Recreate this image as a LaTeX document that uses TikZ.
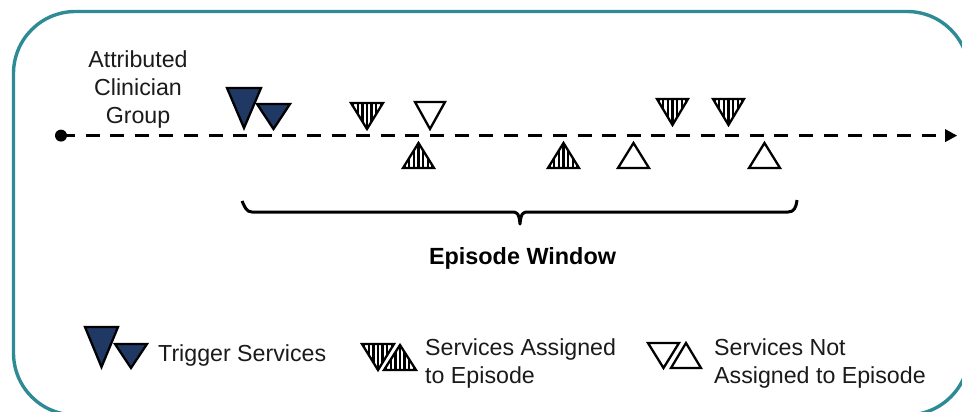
\documentclass[tikz,border=0pt]{standalone}
\usepackage{fontspec}
\setmainfont{Liberation Sans}
\definecolor{teal1}{HTML}{2E8B96}
\definecolor{navy1}{HTML}{1F3864}
\definecolor{ink}{HTML}{1A1A1A}
\tikzset{
  frame/.style={draw=teal1,line width=3.4pt,rounded corners=62pt},
  tri/.style={draw=black,line width=2.3pt,line join=miter},
  trigger/.style={tri,fill=navy1},
  open/.style={tri,fill=white},
  label/.style={inner sep=0pt,text=ink,font=\fontsize{23.2}{28}\selectfont,align=left},
  timeline/.style={line width=3.6pt,dash pattern=on 14pt off 10.6pt},
}
% down/up triangle: #1 style, #2 left x, #3 right x, #4 base y, #5 apex y
\newcommand{\tristem}[5]{\path[#1] (#2,#4) -- (#3,#4) -- ({(#2+#3)/2},#5) -- cycle;}
\newcommand{\trihatch}[4]{%
  \begin{scope}
    \clip (#1,#3) -- (#2,#3) -- ({(#1+#2)/2},#4) -- cycle;
    \foreach \k in {-4,...,4}
      \draw[line width=2.3pt] ({(#1+#2)/2+\k*4.6},#3) -- ({(#1+#2)/2+\k*4.6},#4);
  \end{scope}
  \path[tri] (#1,#3) -- (#2,#3) -- ({(#1+#2)/2},#4) -- cycle;}
\begin{document}
\begin{tikzpicture}[x=1pt,y=-1pt]
\useasboundingbox (0,0) rectangle (962,412);
\begin{scope}
  \clip (0,0) rectangle (962,412);
  \draw[frame] (13.5,11.5) rectangle (969,415);
\end{scope}
% timeline
\coordinate (start) at (61,135.6);
\coordinate (end) at (957,135.6);
\fill (start) circle (6pt);
\draw[timeline] (start) -- (943,135.6);
\fill (end) -- (945,129) -- (945,142.2) -- cycle;
% triangles on the timeline
\tristem{trigger}{227}{261}{88}{128}
\tristem{trigger}{257}{290}{104}{129}
\trihatch{351}{383}{103}{129}
\tristem{open}{415}{445}{102}{129}
\trihatch{403}{434}{168}{143}
\trihatch{548}{579}{168}{143}
\tristem{open}{618}{649}{168}{143}
\trihatch{657}{688}{99}{125}
\trihatch{713}{744}{99}{125}
\tristem{open}{749}{780}{168}{143}
% brace
\draw[line width=3pt,line join=round] (242,201) .. controls (245,207) and (246,212) .. (252,212)
  -- (512,212) .. controls (517,212) and (519,213) .. (520,224)
  .. controls (521,213) and (523,212) .. (528,212)
  -- (788,212) .. controls (794,212) and (796,208) .. (797,200);
\node[label,font=\fontsize{23.4}{28}\selectfont\bfseries,text=black] (window) at (522.5,258) {Episode Window};
\node[label,align=center] (group) at (138,90) {Attributed\\Clinician\\Group};
% legend
\tristem{trigger}{85}{118}{327}{367}
\tristem{trigger}{115}{147}{344}{368}
\node[label,anchor=west] (l1) at (158,355) {Trigger Services};
\trihatch{362}{394}{344}{370}
\trihatch{384}{416}{370}{345}
\node[label,anchor=west] (l2) at (425,363) {Services Assigned\\to Episode};
\tristem{open}{648}{679}{343}{368}
\tristem{open}{671}{701}{368}{343}
\node[label,anchor=west] (l3) at (714,363) {Services Not\\Assigned to Episode};
\end{tikzpicture}
\end{document}
